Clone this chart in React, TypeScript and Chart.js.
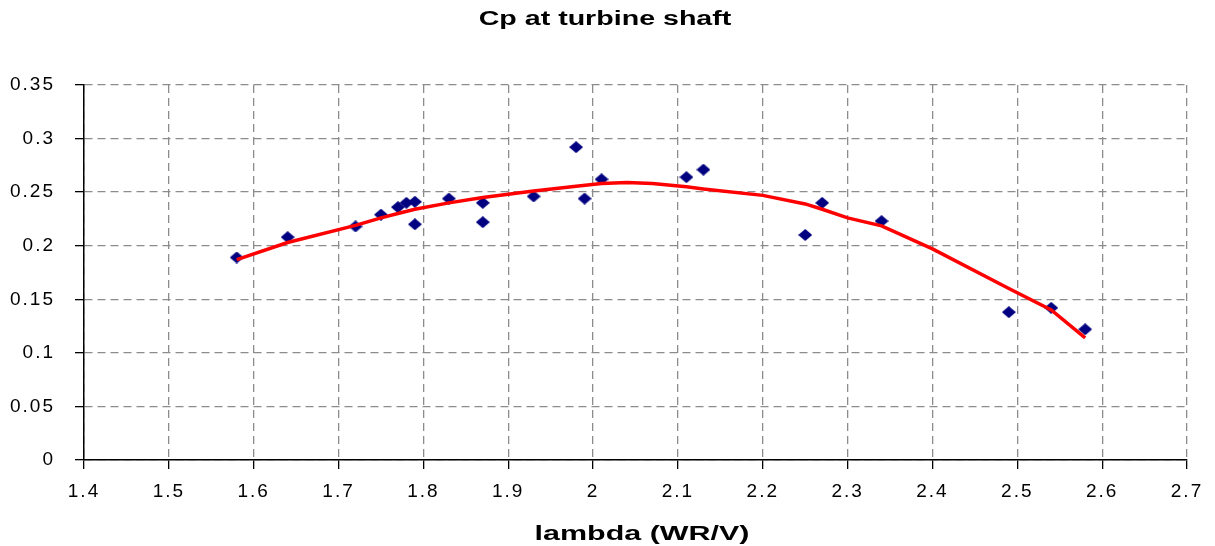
import React, { useEffect, useRef } from "react";
import { Chart, registerables } from "chart.js";

Chart.register(...registerables);

// Measured power coefficient against tip speed ratio
const lambdaMeasured = [1.58, 1.64, 1.72, 1.75, 1.77, 1.78, 1.79, 1.79, 1.83, 1.87, 1.87, 1.93, 1.98, 1.99, 2.01, 2.11, 2.13, 2.25, 2.27, 2.34, 2.49, 2.54, 2.58];
const cpMeasured = [0.189, 0.208, 0.218, 0.229, 0.236, 0.24, 0.241, 0.22, 0.244, 0.24, 0.222, 0.246, 0.292, 0.244, 0.262, 0.264, 0.271, 0.21, 0.24, 0.223, 0.138, 0.142, 0.122];

// Trend curve through the measurements
const lambdaTrend = [1.58, 1.64, 1.72, 1.75, 1.77, 1.79, 1.83, 1.87, 1.93, 1.98, 2.01, 2.04, 2.07, 2.11, 2.13, 2.2, 2.25, 2.27, 2.3, 2.34, 2.4, 2.49, 2.54, 2.58];
const cpTrend = [0.187, 0.203, 0.219, 0.226, 0.23, 0.234, 0.24, 0.245, 0.251, 0.2555, 0.258, 0.259, 0.258, 0.255, 0.253, 0.247, 0.239, 0.234, 0.226, 0.2185, 0.197, 0.16, 0.14, 0.114];

// Axis ticks
const xTickValues = [1.4, 1.5, 1.6, 1.7, 1.8, 1.9, 2.0, 2.1, 2.2, 2.3, 2.4, 2.5, 2.6, 2.7];
const xTickLabels = ["1.4", "1.5", "1.6", "1.7", "1.8", "1.9", "2", "2.1", "2.2", "2.3", "2.4", "2.5", "2.6", "2.7"];
const yTickValues = [0, 0.05, 0.1, 0.15, 0.2, 0.25, 0.3, 0.35];
const yTickLabels = ["0", "0.05", "0.1", "0.15", "0.2", "0.25", "0.3", "0.35"];

const chartTitle = "Cp at turbine shaft";
const xAxisTitle = "lambda (WR/V)";

const FONT = '"Liberation Sans", Arial, Helvetica, sans-serif';
const TICK_SPACING = "2px";

// Slightly spread lettering for the axis numbers
const tickSpacingPlugin = {
  id: "tickSpacing",
  beforeLayout(chart: any) {
    chart.ctx.letterSpacing = TICK_SPACING;
  },
  beforeDraw(chart: any) {
    chart.ctx.letterSpacing = TICK_SPACING;
  },
};

// Text drawn with horizontally widened glyphs, centred on cx
function drawWide(ctx: CanvasRenderingContext2D, text: string, cx: number, y: number, font: string, stretch: number) {
  ctx.save();
  ctx.font = font;
  (ctx as any).letterSpacing = "0px";
  ctx.textAlign = "center";
  ctx.textBaseline = "alphabetic";
  ctx.translate(cx, y);
  ctx.scale(stretch, 1);
  ctx.fillText(text, 0, 0);
  ctx.restore();
}

// Chart heading and horizontal axis caption
const captionPlugin = {
  id: "captions",
  afterDraw(chart: any) {
    const ctx: CanvasRenderingContext2D = chart.ctx;
    ctx.save();
    ctx.fillStyle = "#000";
    drawWide(ctx, chartTitle, 605, 25, `bold 20px ${FONT}`, 1.43);
    drawWide(ctx, xAxisTitle, 642, 540, `bold 21px ${FONT}`, 1.45);
    ctx.restore();
  },
};

// Navy diamond marker, a little wider than tall
function makeDiamond(): HTMLCanvasElement {
  const c = document.createElement("canvas");
  const w = 14;
  const h = 12;
  c.width = w;
  c.height = h;
  const g = c.getContext("2d")!;
  g.fillStyle = "#000080";
  g.beginPath();
  g.moveTo(w / 2, 0);
  g.lineTo(w, h / 2);
  g.lineTo(w / 2, h);
  g.lineTo(0, h / 2);
  g.closePath();
  g.fill();
  return c;
}

export default function App() {
  const canvasRef = useRef<HTMLCanvasElement>(null);

  useEffect(() => {
    const canvas = canvasRef.current;
    if (!canvas) return;

    const gridStyle = {
      color: "#8c8c8c",
      lineWidth: 1.3,
      drawTicks: true,
      tickLength: 9,
      tickColor: "#000",
      tickWidth: 1.3,
      tickBorderDash: [],
    };
    const borderStyle = { display: true, color: "#000", width: 1.5, dash: [8, 5] };
    const tickFont = { family: FONT, size: 19, weight: "normal" as const };
    const diamond = makeDiamond();

    const chart = new Chart(canvas, {
      type: "scatter",
      data: {
        datasets: [
          {
            label: "trend",
            data: lambdaTrend.map((x, i) => ({ x, y: cpTrend[i] })),
            showLine: true,
            borderColor: "#ff0000",
            backgroundColor: "#ff0000",
            borderWidth: 3.5,
            pointRadius: 0,
            pointHoverRadius: 0,
            tension: 0,
          },
          {
            label: "measured",
            data: lambdaMeasured.map((x, i) => ({ x, y: cpMeasured[i] })),
            showLine: false,
            pointStyle: diamond,
            pointRadius: 7,
            pointHoverRadius: 7,
            backgroundColor: "#000080",
            borderColor: "#000080",
            borderWidth: 0,
          },
        ],
      },
      options: {
        responsive: false,
        animation: false,
        events: [],
        layout: { padding: { top: 85, right: 28, left: 0, bottom: 0 } },
        plugins: {
          legend: { display: false },
          tooltip: { enabled: false },
          title: { display: false },
        },
        scales: {
          x: {
            type: "linear",
            min: 1.4,
            max: 2.7,
            afterBuildTicks: (scale: any) => {
              scale.ticks = xTickValues.map((v) => ({ value: v }));
            },
            afterFit: (scale: any) => {
              scale.height = 86;
            },
            ticks: {
              callback: (_v: any, i: number) => xTickLabels[i],
              font: tickFont,
              color: "#000",
              padding: 11,
              maxRotation: 0,
              autoSkip: false,
            },
            grid: gridStyle,
            border: borderStyle,
          },
          y: {
            type: "linear",
            min: 0,
            max: 0.35,
            afterBuildTicks: (scale: any) => {
              scale.ticks = yTickValues.map((v) => ({ value: v }));
            },
            afterFit: (scale: any) => {
              scale.width = 84;
            },
            ticks: {
              callback: (_v: any, i: number) => yTickLabels[i],
              font: tickFont,
              color: "#000",
              padding: 20,
              autoSkip: false,
            },
            grid: gridStyle,
            border: borderStyle,
          },
        },
      } as any,
      plugins: [tickSpacingPlugin, captionPlugin],
    });

    return () => chart.destroy();
  }, []);

  return (
    <div style={{ position: "absolute", left: 0, top: 0, width: 1215, height: 546, background: "#fff" }}>
      <canvas ref={canvasRef} width={1215} height={546} style={{ display: "block" }} />
    </div>
  );
}
